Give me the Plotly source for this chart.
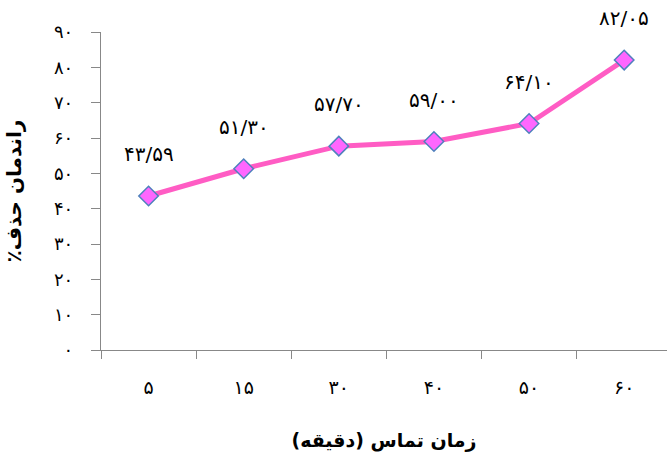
import plotly.graph_objects as go

# Contact time (minutes) and removal efficiency (%)
contact_time = [5, 15, 30, 40, 50, 60]
removal_pct = [43.59, 51.30, 57.70, 59.00, 64.10, 82.05]
y_ticks = [0, 10, 20, 30, 40, 50, 60, 70, 80, 90]

FA_DIGITS = str.maketrans("0123456789.", "۰۱۲۳۴۵۶۷۸۹/")
RLM = "\u200f"


def fa(s):
    return str(s).translate(FA_DIGITS)


x_labels = [fa(t) for t in contact_time]
value_labels = [fa(f"{v:.2f}") for v in removal_pct]

FONT = "DejaVu Sans"

fig = go.Figure()
fig.add_trace(go.Scatter(
    x=x_labels,
    y=removal_pct,
    mode="lines+markers",
    line=dict(color="#FF5CC4", width=5),
    marker=dict(symbol="diamond", size=15, color="#FF66FF",
                line=dict(color="#4F81BD", width=1.5)),
    hoverinfo="skip",
))

for xl, v, t in zip(x_labels, removal_pct, value_labels):
    fig.add_annotation(x=xl, y=v, text=t, showarrow=False,
                       yshift=42, font=dict(family=FONT, size=20, color="#000"))

fig.update_layout(
    width=667, height=453,
    margin=dict(l=101, r=0, t=32, b=103),
    paper_bgcolor="white", plot_bgcolor="white",
    showlegend=False,
    font=dict(family=FONT, color="#000"),
)

fig.update_xaxes(
    type="category",
    range=[-0.5, 5.45],
    tickson="boundaries",
    ticks="outside", ticklen=8, tickcolor="#888", tickwidth=1,
    showline=True, linecolor="#888", linewidth=1.3,
    showgrid=False, zeroline=False,
    tickfont=dict(size=19, family=FONT),
    ticklabelstandoff=20,
    title=dict(text="<b>زمان تماس (دقیقه)" + RLM + "</b>",
               font=dict(size=19, family=FONT), standoff=36),
)
fig.update_yaxes(
    range=[0, 90],
    tickvals=y_ticks,
    ticktext=[fa(v) for v in y_ticks],
    ticks="outside", ticklen=9, tickcolor="#888", tickwidth=1,
    showline=True, linecolor="#888", linewidth=1.3,
    showgrid=False, zeroline=False,
    tickfont=dict(size=18, family=FONT),
    ticklabelstandoff=14,
    title=dict(text="<b>راندمان حذف٪" + RLM + "</b>",
               font=dict(size=20, family=FONT), standoff=26),
)

fig.write_html("out.html")
